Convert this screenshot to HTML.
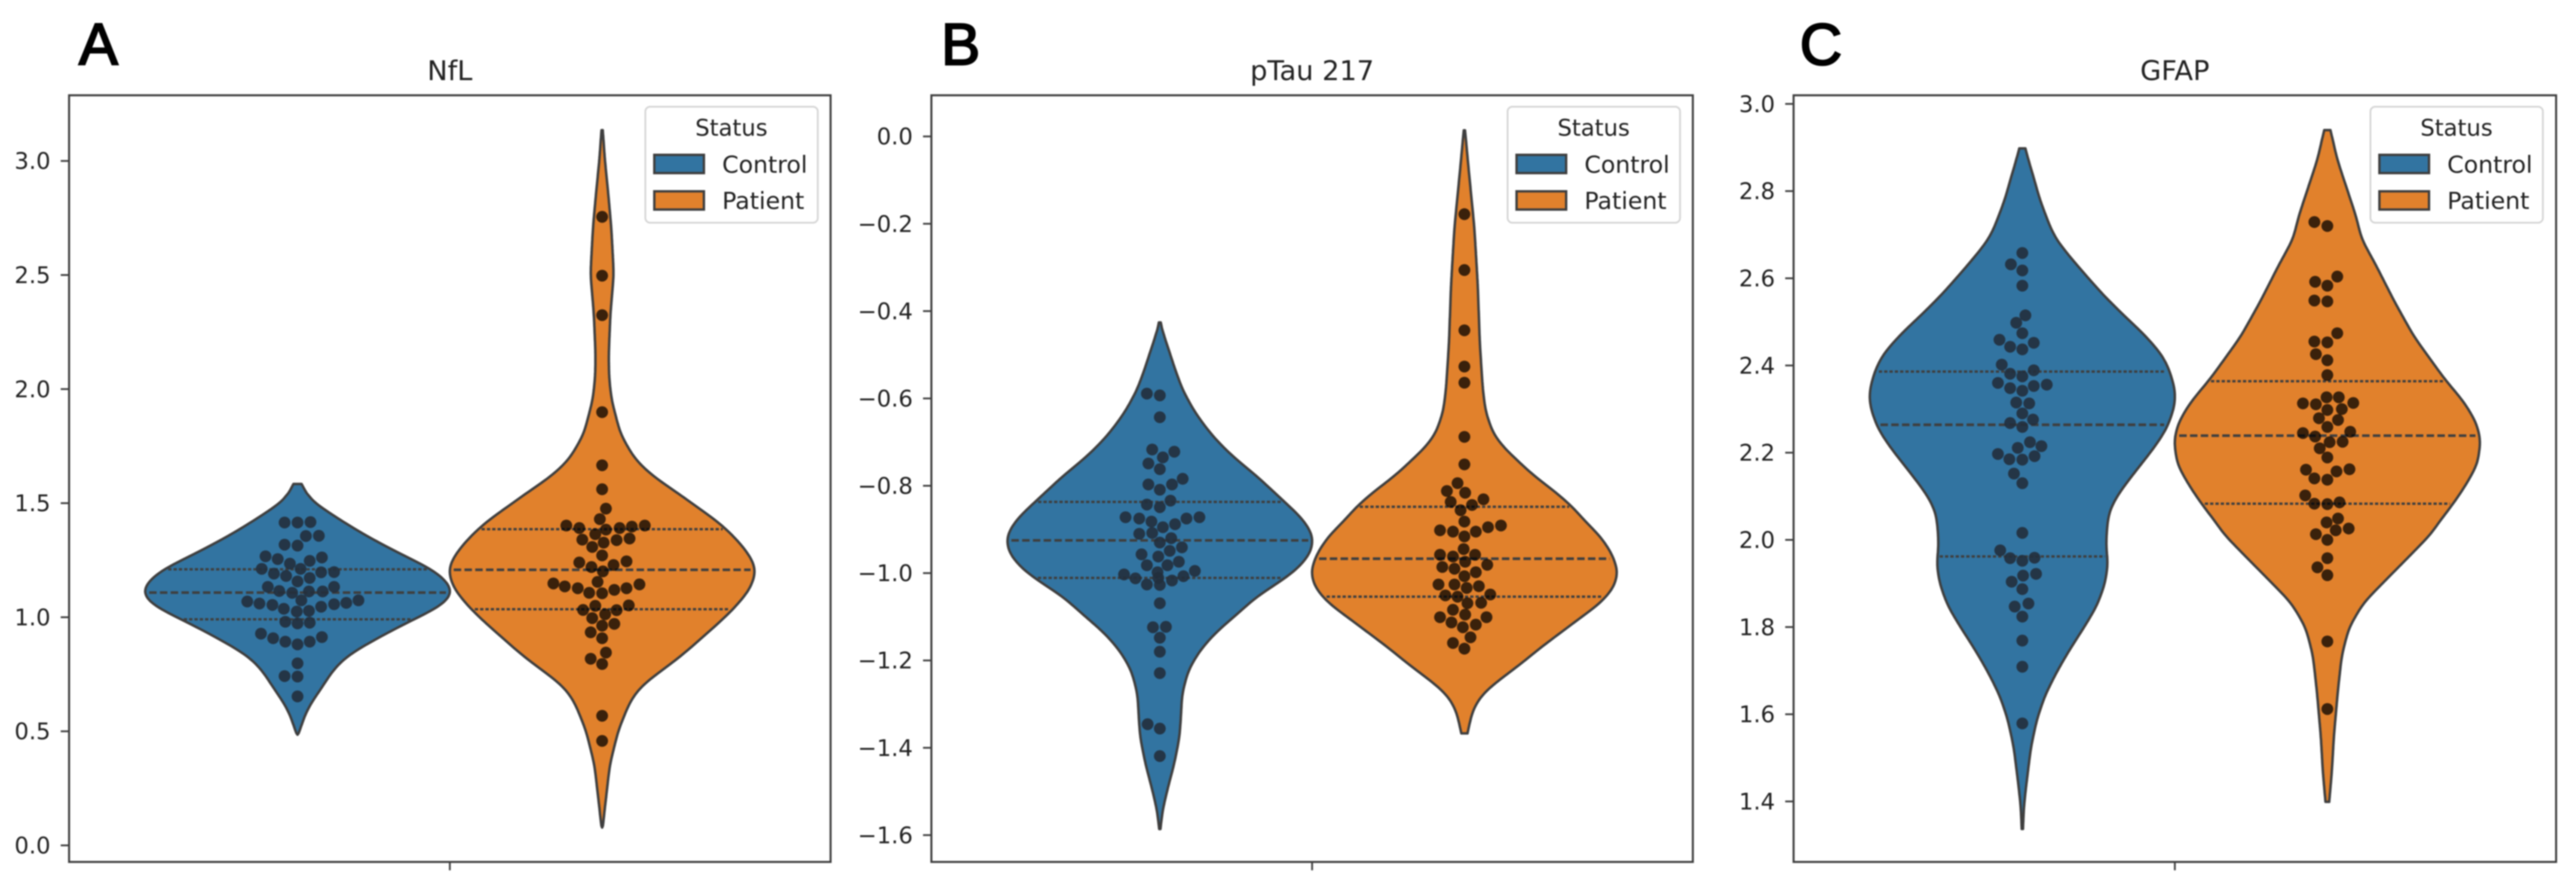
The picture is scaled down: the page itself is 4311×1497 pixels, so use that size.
<!DOCTYPE html>
<html lang="en">
<head>
<meta charset="utf-8">
<title>NfL, pTau 217 and GFAP violin plots</title>
<style>
html,body{margin:0;padding:0;background:#fff;}
svg{display:block;filter:blur(1px);}
text{font-family:"DejaVu Sans","Liberation Sans",sans-serif;fill:#222;font-size:38px;}
.panel-letter{font-family:"Liberation Sans",sans-serif;font-size:98px;fill:#000;stroke:#000;stroke-width:3px;}
.title{font-size:45.6px;text-anchor:middle;}
.legend-title{text-anchor:middle;}
.legend-label{font-size:39.5px;}
</style>
</head>
<body>
<svg id="fig" xmlns="http://www.w3.org/2000/svg" width="4311" height="1497" viewBox="0 0 4311 1497">
  <rect x="0" y="0" width="4311" height="1497" fill="#fff"/>
  <text class="panel-letter" x="132" y="108">A</text>
  <text class="panel-letter" x="1575" y="108">B</text>
  <text class="panel-letter" x="3012" y="108">C</text>
  <text class="title" x="752.8" y="134">NfL</text>
  <text class="title" x="2195.9" y="134">pTau 217</text>
  <text class="title" x="3639.6" y="134">GFAP</text>
  <g id="plots"></g>

  <g transform="translate(0,0)">
    <rect x="1080" y="178.5" width="288.6" height="194" rx="8" fill="#fff" fill-opacity="0.8" stroke="#d6d6d6" stroke-width="3"/>
    <text class="legend-title" x="1224" y="227">Status</text>
    <rect x="1095" y="259" width="83" height="30.5" fill="#3274a1" stroke="#3f3f3f" stroke-width="4"/>
    <text class="legend-label" x="1208.5" y="289">Control</text>
    <rect x="1095" y="320" width="83" height="30.5" fill="#e1812c" stroke="#3f3f3f" stroke-width="4"/>
    <text class="legend-label" x="1208.5" y="349.5">Patient</text>
  </g>
  <g transform="translate(1443,0)">
    <rect x="1080" y="178.5" width="288.6" height="194" rx="8" fill="#fff" fill-opacity="0.8" stroke="#d6d6d6" stroke-width="3"/>
    <text class="legend-title" x="1224" y="227">Status</text>
    <rect x="1095" y="259" width="83" height="30.5" fill="#3274a1" stroke="#3f3f3f" stroke-width="4"/>
    <text class="legend-label" x="1208.5" y="289">Control</text>
    <rect x="1095" y="320" width="83" height="30.5" fill="#e1812c" stroke="#3f3f3f" stroke-width="4"/>
    <text class="legend-label" x="1208.5" y="349.5">Patient</text>
  </g>
  <g transform="translate(2887,0)">
    <rect x="1080" y="178.5" width="288.6" height="194" rx="8" fill="#fff" fill-opacity="0.8" stroke="#d6d6d6" stroke-width="3"/>
    <text class="legend-title" x="1224" y="227">Status</text>
    <rect x="1095" y="259" width="83" height="30.5" fill="#3274a1" stroke="#3f3f3f" stroke-width="4"/>
    <text class="legend-label" x="1208.5" y="289">Control</text>
    <rect x="1095" y="320" width="83" height="30.5" fill="#e1812c" stroke="#3f3f3f" stroke-width="4"/>
    <text class="legend-label" x="1208.5" y="349.5">Patient</text>
  </g>
</svg>
<script>
/* ---------- tick values ---------- */
const nflTicks = [0, 0.5, 1, 1.5, 2, 2.5, 3];
const nflTickLabels = ["0.0", "0.5", "1.0", "1.5", "2.0", "2.5", "3.0"];
const ptauTicks = [0, -0.2, -0.4, -0.6, -0.8, -1, -1.2, -1.4, -1.6];
const ptauTickLabels = ["0.0", "\u22120.2", "\u22120.4", "\u22120.6", "\u22120.8", "\u22121.0", "\u22121.2", "\u22121.4", "\u22121.6"];
const gfapTicks = [1.4, 1.6, 1.8, 2, 2.2, 2.4, 2.6, 2.8, 3];
const gfapTickLabels = ["1.4", "1.6", "1.8", "2.0", "2.2", "2.4", "2.6", "2.8", "3.0"];

/* ---------- NfL: density outline (value, relative density) ---------- */
const nflControlKdeY = [1.584,1.557,1.513,1.456,1.399,1.347,1.299,1.255,1.212,1.164,1.120,1.108,1.067,1.041,.984,.932,.867,.818,.757,.692,.622,.570,.485];
const nflControlKdeW = [.026,.047,.081,.209,.337,.468,.599,.729,.860,.952,.993,1,.954,.902,.725,.578,.405,.294,.216,.157,.085,.046,.005];
const nflPatientKdeY = [3.135,3.005,2.855,2.705,2.504,2.33,2.154,2.054,1.954,1.804,1.704,1.661,1.609,1.548,1.487,1.426,1.364,1.295,1.233,1.190,1.120,1.037,.971,.910,.832,.770,.709,.666,.613,.578,.503,.353,.153,.078];
const nflPatientKdeW = [.004,.018,.04,.06,.076,.054,.043,.045,.061,.119,.203,.259,.350,.485,.610,.740,.844,.935,.993,1,.961,.857,.753,.649,.519,.395,.273,.215,.170,.15,.105,.05,.016,.004];
const nflControlQuartiles = [.991, 1.108, 1.210];
const nflPatientQuartiles = [1.035, 1.208, 1.386];
/* NfL: swarm points (value, category offset) */
const nflControlDotY = [1.415,1.415,1.417,1.356,1.357,1.318,1.314,1.267,1.255,1.235,1.247,1.262,1.212,1.191,1.181,1.212,1.172,1.157,1.197,1.198,1.133,1.115,1.107,1.113,1.113,1.133,1.074,1.069,1.060,1.054,1.037,1.025,1.028,1.046,1.057,1.063,1.074,.980,.973,.976,.928,.908,.893,.881,.893,.913,.798,.742,.740,.653];
const nflControlDotX = [-.017,0,.017,.011,.028,-.017,0,-.042,-.026,-.010,.016,.032,-.047,-.031,-.015,.004,.016,0,.031,.048,-.039,-.024,-.007,.015,.033,.048,.005,-.066,-.050,-.033,-.018,-.001,.015,.031,.048,.064,.080,-.016,0,.016,-.048,-.032,-.016,0,.016,.032,0,-.017,0,0];
const nflPatientDotY = [2.755,2.497,2.324,1.899,1.666,1.561,1.476,1.430,1.402,1.391,1.384,1.391,1.397,1.402,1.364,1.340,1.327,1.338,1.345,1.308,1.271,1.240,1.220,1.201,1.229,1.245,1.155,1.148,1.135,1.127,1.107,1.105,1.120,1.127,1.144,1.050,1.032,1.031,1.052,1.013,.996,.971,.963,.934,.908,.845,.818,.795,.568,.458];
const nflPatientDotX = [0,0,0,0,0,0,.005,-.003,-.047,-.030,.005,.023,.039,.056,-.009,-.026,.002,.019,.036,-.013,0,-.030,-.014,.001,.015,.032,-.006,-.064,-.049,-.032,-.017,0,.016,.032,.049,-.009,-.025,.019,.035,.004,-.013,.016,0,-.015,0,.005,-.015,0,0,0];

/* ---------- pTau 217 ---------- */
const ptauControlKdeY = [-.426,-.45,-.472,-.53,-.582,-.635,-.687,-.733,-.778,-.831,-.874,-.906,-.925,-.956,-.993,-1.025,-1.054,-1.095,-1.134,-1.175,-1.221,-1.276,-1.331,-1.376,-1.435,-1.495,-1.545,-1.586];
const ptauControlKdeW = [.006,.02,.043,.096,.150,.234,.345,.475,.632,.794,.925,.987,1,.980,.889,.759,.629,.50,.37,.265,.187,.145,.137,.128,.095,.05,.017,.004];
const ptauPatientKdeY = [.014,-.080,-.210,-.341,-.472,-.576,-.629,-.681,-.714,-.746,-.778,-.810,-.847,-.879,-.915,-.956,-.997,-1.034,-1.070,-1.102,-1.139,-1.171,-1.207,-1.262,-1.289,-1.322,-1.367];
const ptauPatientKdeW = [.004,.029,.065,.087,.10,.119,.137,.187,.259,.357,.454,.577,.700,.778,.882,.960,1,.971,.881,.755,.616,.493,.370,.162,.09,.047,.02];
const ptauControlQuartiles = [-1.011, -.925, -.837];
const ptauPatientQuartiles = [-1.054, -.967, -.848];
const ptauControlDotY = [-.589,-.593,-.643,-.717,-.722,-.735,-.749,-.762,-.784,-.797,-.797,-.809,-.834,-.843,-.849,-.872,-.875,-.882,-.895,-.888,-.875,-.872,-.910,-.908,-.920,-.930,-.941,-.949,-.957,-.962,-.974,-.982,-.982,-.998,-.995,-1.003,-1.012,-1.007,-1.017,-1.011,-1.026,-1.027,-1.069,-1.124,-1.123,-1.148,-1.180,-1.229,-1.346,-1.356,-1.419];
const ptauControlDotX = [-.017,0,0,-.010,.019,.004,-.015,0,.030,.016,-.015,0,.014,-.017,0,-.045,-.027,-.011,.004,.020,.035,.052,-.027,-.010,.015,0,.029,.013,-.024,-.002,.025,-.017,.010,-.003,.046,-.047,-.032,.031,.016,-.002,-.017,0,0,-.009,.008,0,0,0,-.016,0,0];
const ptauPatientDotY = [-.178,-.306,-.444,-.527,-.564,-.688,-.751,-.794,-.812,-.816,-.837,-.831,-.844,-.856,-.882,-.902,-.905,-.905,-.895,-.891,-.916,-.945,-.958,-.962,-.958,-.974,-.986,-.990,-.981,-.998,-1.007,-1.026,-1.026,-1.034,-1.030,-1.051,-1.054,-1.049,-1.069,-1.068,-1.084,-1.095,-1.101,-1.101,-1.113,-1.118,-1.124,-1.147,-1.160,-1.173];
const ptauPatientDotX = [0,0,0,0,0,0,0,-.009,-.023,.001,-.018,.025,.010,-.005,0,-.032,-.015,.015,.031,.048,0,-.001,-.032,-.015,.014,.001,-.029,-.013,.030,.015,0,-.034,-.013,.003,.019,-.025,-.009,.034,.004,.022,-.015,.001,-.032,.029,-.017,.015,-.002,.008,-.015,0];

/* ---------- GFAP ---------- */
const gfapControlKdeY = [2.898,2.87,2.846,2.78,2.715,2.690,2.651,2.608,2.564,2.518,2.473,2.427,2.393,2.347,2.324,2.301,2.256,2.214,2.173,2.132,2.100,2.064,2.027,1.986,1.945,1.899,1.849,1.803,1.753,1.698,1.643,1.588,1.524,1.433,1.387,1.337];
const gfapControlKdeW = [.02,.04,.062,.115,.185,.220,.307,.412,.523,.654,.791,.908,.958,.997,1,.991,.945,.867,.775,.684,.618,.566,.553,.547,.560,.54,.488,.41,.318,.226,.148,.095,.056,.024,.01,.004];
const gfapPatientKdeY = [2.940,2.872,2.806,2.741,2.690,2.630,2.548,2.466,2.370,2.315,2.269,2.228,2.173,2.128,2.086,2.032,2.018,1.968,1.913,1.856,1.799,1.735,1.652,1.547,1.471,1.399];
const gfapPatientKdeW = [.02,.065,.127,.188,.223,.317,.435,.565,.762,.893,.971,1,.978,.906,.827,.709,.688,.55,.395,.236,.141,.094,.068,.042,.03,.012];
const gfapControlQuartiles = [1.962, 2.264, 2.386];
const gfapPatientQuartiles = [2.083, 2.239, 2.364];
const gfapControlDotY = [2.658,2.632,2.618,2.583,2.515,2.498,2.474,2.459,2.452,2.443,2.437,2.402,2.389,2.381,2.375,2.360,2.348,2.342,2.353,2.356,2.315,2.313,2.290,2.268,2.276,2.259,2.224,2.211,2.215,2.197,2.185,2.184,2.192,2.152,2.130,2.016,1.976,1.958,1.952,1.959,1.922,1.918,1.904,1.887,1.854,1.847,1.824,1.769,1.709,1.579];
const gfapControlDotX = [0,-.015,0,0,.004,-.008,0,-.030,.015,-.016,0,-.027,.015,-.016,0,-.032,-.016,0,.015,.032,-.008,.009,0,-.016,.014,0,.010,-.006,.025,-.032,-.017,0,.016,-.011,0,0,-.029,-.016,0,.016,.018,.001,-.014,0,.008,-.010,0,0,0,0];
const gfapPatientDotY = [2.729,2.720,2.604,2.592,2.583,2.549,2.547,2.474,2.455,2.453,2.426,2.412,2.378,2.327,2.327,2.313,2.311,2.314,2.298,2.300,2.279,2.275,2.259,2.245,2.237,2.248,2.224,2.225,2.210,2.189,2.161,2.141,2.138,2.157,2.162,2.102,2.083,2.082,2.086,2.049,2.040,2.022,2.026,2.013,2.000,1.958,1.937,1.919,1.767,1.612];
const gfapPatientDotX = [-.017,0,.013,-.016,0,-.017,0,.013,-.017,0,-.015,0,0,-.001,.015,-.032,-.015,.034,0,.019,-.011,.014,0,-.032,-.016,.030,.003,.020,-.010,0,-.028,-.017,0,.012,.029,-.029,-.017,0,.016,.014,-.001,.011,.028,-.015,0,0,-.013,0,0,0];

/* ---------- rendering ---------- */
const SVGNS = "http://www.w3.org/2000/svg";
const LINE = "#3f3f3f";
const COLORS = {control: "#3274a1", patient: "#e1812c"};
const DOT_STYLE = {control: {fill: "#222f3c", opacity: 0.9}, patient: {fill: "#000", opacity: 0.74}};
const DODGE = 0.2;          /* category units from centre to each violin */
const MAX_HALF = 0.2;       /* half-width of the widest density */
const DOT_R = 9.9;
const SMOOTH_PX = 11;       /* Gaussian smoothing of the outline along the value axis */

function make(tag, attrs, parent) {
  const n = document.createElementNS(SVGNS, tag);
  for (const k in attrs) n.setAttribute(k, attrs[k]);
  parent.appendChild(n);
  return n;
}
function interpolate(ys, ws, v) {
  for (let i = 0; i < ys.length - 1; i++) {
    if (v <= ys[i] && v >= ys[i + 1]) {
      const t = (ys[i] - v) / (ys[i] - ys[i + 1]);
      return ws[i] + t * (ws[i + 1] - ws[i]);
    }
  }
  return 0;
}
/* Resample the read density curve finely and remove reading noise. */
function smoothDensity(kdeY, kdeW, pxPerUnit) {
  const top = kdeY[0], bot = kdeY[kdeY.length - 1];
  const n = Math.max(8, Math.round((top - bot) * pxPerUnit / 3));
  const ys = [], raw = [];
  for (let i = 0; i <= n; i++) {
    const v = top + (bot - top) * i / n;
    ys.push(v);
    raw.push(interpolate(kdeY, kdeW, v));
  }
  const stepPx = (top - bot) * pxPerUnit / n;
  const ws = raw.map((_, i) => {
    const edge = Math.min(i, n - i) * stepPx;
    const sigma = Math.min(SMOOTH_PX, edge / 1.8);
    if (sigma < 0.5) return raw[i];
    let sum = 0, wt = 0;
    const reach = Math.ceil(3 * sigma / stepPx);
    for (let j = Math.max(0, i - reach); j <= Math.min(n, i + reach); j++) {
      const d = (j - i) * stepPx;
      const g = Math.exp(-d * d / (2 * sigma * sigma));
      sum += raw[j] * g;
      wt += g;
    }
    return sum / wt;
  });
  const peak = Math.max.apply(null, ws);
  return {ys: ys, ws: ws.map(w => w / peak)};
}
function polyPath(pts) {
  return pts.map((p, i) => (i ? "L" : "M") + p[0].toFixed(1) + " " + p[1].toFixed(1)).join("") + "Z";
}

function drawViolin(g, sx, sy, pxPerUnit, group, cat, kdeY, kdeW, quartiles, dotY, dotX) {
  const vg = make("g", {}, g);
  
  

  const s = smoothDensity(kdeY, kdeW, pxPerUnit);
  const right = s.ys.map((v, i) => [sx(cat + s.ws[i] * MAX_HALF), sy(v)]);
  const left = s.ys.map((v, i) => [sx(cat - s.ws[i] * MAX_HALF), sy(v)]).reverse();
  const outlineD = polyPath(right.concat(left));

  const fill = make("path", {d: outlineD, fill: COLORS[group], stroke: "none"}, vg);
  
  

  quartiles.forEach((q, i) => {
    const hw = interpolate(s.ys, s.ws, q) * MAX_HALF * 0.975;
    const isMedian = i === 1;
    const line = make("line", {
      x1: sx(cat - hw), x2: sx(cat + hw), y1: sy(q), y2: sy(q),
      stroke: LINE, "stroke-width": isMedian ? 4.4 : 4,
      "stroke-dasharray": isMedian ? "12.5 5.5" : "5.5 3.4"
    }, vg);
    
    
  });

  dotY.forEach((v, i) => {
    const dot = make("circle", {
      cx: sx(cat + dotX[i]), cy: sy(v), r: DOT_R,
      fill: DOT_STYLE[group].fill, "fill-opacity": DOT_STYLE[group].opacity
    }, vg);
    
    
  });

  const edge = make("path", {d: outlineD, fill: "none", stroke: LINE, "stroke-width": 4.2, "stroke-linejoin": "round"}, vg);
  
  
}

function drawPanel(p) {
  const root = document.getElementById("plots");
  const g = make("g", {}, root);
  
  

  const W = p.right - p.left;
  const sx = c => p.left + (c + 0.5) * W;
  const sy = v => p.refPx + (p.refVal - v) * p.pxPerUnit;

  drawViolin(g, sx, sy, p.pxPerUnit, "control", -DODGE, p.control.kdeY, p.control.kdeW, p.control.quartiles, p.control.dotY, p.control.dotX);
  drawViolin(g, sx, sy, p.pxPerUnit, "patient", DODGE, p.patient.kdeY, p.patient.kdeW, p.patient.quartiles, p.patient.dotY, p.patient.dotX);

  const frame = make("rect", {x: p.left, y: p.top, width: W, height: p.bottom - p.top, fill: "none", stroke: LINE, "stroke-width": 3.4}, g);
  
  

  const xt = make("line", {x1: sx(0), x2: sx(0), y1: p.bottom, y2: p.bottom + 14, stroke: LINE, "stroke-width": 3}, g);
  
  

  p.ticks.forEach((t, i) => {
    const tick = make("line", {x1: p.left - 14, x2: p.left, y1: sy(t), y2: sy(t), stroke: LINE, "stroke-width": 3}, g);
    
    
    const lab = make("text", {x: p.left - 31, y: sy(t) + 13.5, "text-anchor": "end"}, g);
    lab.textContent = p.tickLabels[i];
    
    
  });
}

drawPanel({
  name: "nfl", left: 115.6, right: 1390, top: 159.4, bottom: 1441.7,
  refVal: 0, refPx: 1414, pxPerUnit: 381.6,
  ticks: nflTicks, tickLabels: nflTickLabels,
  control: {kdeY: nflControlKdeY, kdeW: nflControlKdeW, quartiles: nflControlQuartiles, dotY: nflControlDotY, dotX: nflControlDotX},
  patient: {kdeY: nflPatientKdeY, kdeW: nflPatientKdeW, quartiles: nflPatientQuartiles, dotY: nflPatientDotY, dotX: nflPatientDotX}
});
drawPanel({
  name: "ptau217", left: 1558.7, right: 2833, top: 159.4, bottom: 1441.7,
  refVal: 0, refPx: 228.2, pxPerUnit: 730.4,
  ticks: ptauTicks, tickLabels: ptauTickLabels,
  control: {kdeY: ptauControlKdeY, kdeW: ptauControlKdeW, quartiles: ptauControlQuartiles, dotY: ptauControlDotY, dotX: ptauControlDotX},
  patient: {kdeY: ptauPatientKdeY, kdeW: ptauPatientKdeW, quartiles: ptauPatientQuartiles, dotY: ptauPatientDotY, dotX: ptauPatientDotX}
});
drawPanel({
  name: "gfap", left: 3001.6, right: 4277.7, top: 159.4, bottom: 1441.7,
  refVal: 3, refPx: 173.8, pxPerUnit: 729.2,
  ticks: gfapTicks, tickLabels: gfapTickLabels,
  control: {kdeY: gfapControlKdeY, kdeW: gfapControlKdeW, quartiles: gfapControlQuartiles, dotY: gfapControlDotY, dotX: gfapControlDotX},
  patient: {kdeY: gfapPatientKdeY, kdeW: gfapPatientKdeW, quartiles: gfapPatientQuartiles, dotY: gfapPatientDotY, dotX: gfapPatientDotX}
});
</script>
</body>
</html>
